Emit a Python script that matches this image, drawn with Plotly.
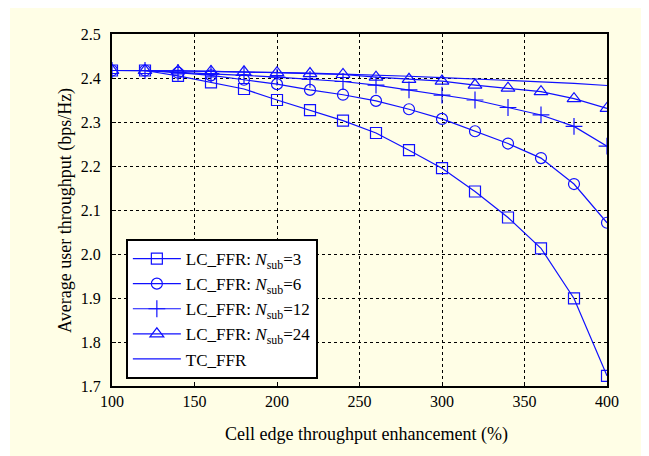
import plotly.graph_objects as go

x_vals = [100, 120, 140, 160, 180, 200, 220, 240, 260, 280, 300, 320, 340, 360, 380, 400]

lc_nsub3 = [2.417, 2.417, 2.405, 2.390, 2.375, 2.350, 2.327, 2.303, 2.275, 2.236, 2.195, 2.142, 2.083, 2.013, 1.899, 1.723]
lc_nsub6 = [2.417, 2.417, 2.412, 2.406, 2.396, 2.386, 2.373, 2.362, 2.348, 2.329, 2.307, 2.279, 2.251, 2.218, 2.159, 2.071]
lc_nsub12 = [2.417, 2.417, 2.413, 2.410, 2.406, 2.402, 2.397, 2.392, 2.384, 2.373, 2.361, 2.350, 2.333, 2.316, 2.290, 2.245]
lc_nsub24 = [2.417, 2.417, 2.416, 2.415, 2.414, 2.412, 2.410, 2.408, 2.402, 2.397, 2.393, 2.384, 2.377, 2.369, 2.353, 2.331]
tc_ffr = [2.417, 2.417, 2.416, 2.415, 2.414, 2.413, 2.411, 2.409, 2.407, 2.404, 2.401, 2.398, 2.395, 2.392, 2.388, 2.383]

series_names = [
    "LC_FFR: <i>N</i><sub>sub</sub>=3",
    "LC_FFR: <i>N</i><sub>sub</sub>=6",
    "LC_FFR: <i>N</i><sub>sub</sub>=12",
    "LC_FFR: <i>N</i><sub>sub</sub>=24",
    "TC_FFR",
]
y_ticks = [1.7, 1.8, 1.9, 2.0, 2.1, 2.2, 2.3, 2.4, 2.5]
x_ticks = [100, 150, 200, 250, 300, 350, 400]
x_title = "Cell edge throughput enhancement (%)"
y_title = "Average user throughput (bps/Hz)"

blue = "#1010FF"
font_family = "Liberation Serif, Times New Roman, serif"

fig = go.Figure()
series = [lc_nsub3, lc_nsub6, lc_nsub12, lc_nsub24]
symbols = ["square-open", "circle-open", "cross-thin-open", "triangle-up-open"]
sizes = [11, 11, 12, 12]
for name, ys, sym, sz in zip(series_names[:4], series, symbols, sizes):
    fig.add_trace(go.Scatter(
        x=x_vals, y=ys, name=name, mode="lines+markers",
        line=dict(color=blue, width=1.2),
        marker=dict(symbol=sym, size=sz, color=blue, line=dict(color=blue, width=1.2)),
    ))
fig.add_trace(go.Scatter(
    x=x_vals, y=tc_ffr, name=series_names[4], mode="lines",
    line=dict(color=blue, width=1.2),
))

# light-yellow figure panel
fig.add_shape(type="rect", xref="paper", yref="paper",
              x0=-0.206, x1=1.0727, y0=-0.25, y1=1.0739,
              fillcolor="#FFFEE6", line=dict(width=0), layer="below")

axis_common = dict(
    showline=True, linecolor="black", linewidth=2, mirror=True,
    ticks="inside", ticklen=4, tickcolor="black",
    showgrid=True, gridcolor="black", gridwidth=1, griddash="dot",
    zeroline=False,
    tickfont=dict(family=font_family, size=16, color="black"),
)

fig.add_annotation(text=x_title, xref="paper", yref="paper",
                   x=0.515, y=-0.139, xanchor="center", yanchor="middle",
                   showarrow=False, font=dict(family=font_family, size=18, color="black"))
fig.add_annotation(text=y_title, xref="paper", yref="paper",
                   x=-0.095, y=0.5, xanchor="center", yanchor="middle", textangle=-90,
                   showarrow=False, font=dict(family=font_family, size=18, color="black"))

fig.update_layout(
    width=641, height=448,
    margin=dict(l=104, r=42, t=26, b=70),
    paper_bgcolor="white", plot_bgcolor="white",
    font=dict(family=font_family, color="black"),
    xaxis=dict(range=[100, 400], tickvals=x_ticks, **axis_common),
    yaxis=dict(range=[1.7, 2.5], tickvals=y_ticks, tickformat=".1f",
               ticklabelstandoff=6, **axis_common),
    legend=dict(x=0.028, y=0.4176, xanchor="left", yanchor="top",
                bgcolor="white", bordercolor="black", borderwidth=2,
                font=dict(family=font_family, size=17, color="black"),
                tracegroupgap=0, itemwidth=48),
    showlegend=True,
)

fig.write_html("out.html")
